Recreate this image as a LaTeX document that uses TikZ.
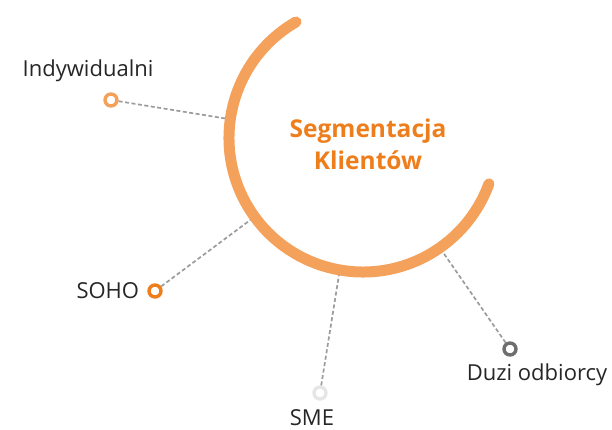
\documentclass[tikz,border=0pt]{standalone}
\usepackage{fontspec}
\setmainfont{Open Sans}
\usepackage{tikz}
\usetikzlibrary{positioning,calc}
\definecolor{arcorange}{HTML}{F4A15C}
\definecolor{deeporange}{HTML}{EE7E1B}
\definecolor{palegray}{HTML}{E6E6E6}
\definecolor{darkgray}{HTML}{6E6E6E}
\definecolor{dashgray}{HTML}{9C9C9C}
\definecolor{textgray}{HTML}{262626}
\tikzset{
  segarc/.style = {draw=arcorange, line width=11pt, line cap=round},
  dotnode/.style = {circle, draw, fill=white, line width=3.4pt, minimum size=12pt, inner sep=0pt},
  labnode/.style = {inner sep=0pt, text=textgray, font=\fontsize{22}{24}\selectfont},
  titlenode/.style = {align=center, inner sep=0pt, text=deeporange, font=\fontsize{24.5}{32}\selectfont\bfseries},
  link/.style = {draw=dashgray, line width=1.7pt, dash pattern=on 4pt off 2.5pt},
}

\begin{document}
\begin{tikzpicture}[x=1pt,y=1pt]
\useasboundingbox (0,0) rectangle (612,430);
\coordinate (C) at (363,292);
% points where the links meet the ring
\coordinate (aInd) at ($(C)+(172:131)$);
\coordinate (aSoho) at ($(C)+(216:131)$);
\coordinate (aSme) at ($(C)+(260:131)$);
\coordinate (aDuzi) at ($(C)+(305:131)$);

\node [dotnode, draw=arcorange] (ind) at (111,330) {};
\node [dotnode, draw=deeporange] (soho) at (155,139) {};
\node [dotnode, draw=palegray] (sme) at (320,37) {};
\node [dotnode, draw=darkgray] (duzi) at (510,81) {};

\draw [link] (ind) -- (aInd);
\draw [link] (soho) -- (aSoho);
\draw [link] (sme) -- (aSme);
\draw [link] (duzi) -- (aDuzi);

\draw [segarc] ($(C)+(120:134)$) arc [start angle=120, end angle=340, radius=134];

\node [labnode] (tInd) at (88,359) {Indywidualni};
\node [labnode, left=8pt of soho] (tSoho) {SOHO};
\node [labnode] (tSme) at (312,12) {SME};
\node [labnode] (tDuzi) at (537,55) {Duzi odbiorcy};
\node [titlenode] (title) at (368,286) {Segmentacja\\Klientów};
\end{tikzpicture}
\end{document}
